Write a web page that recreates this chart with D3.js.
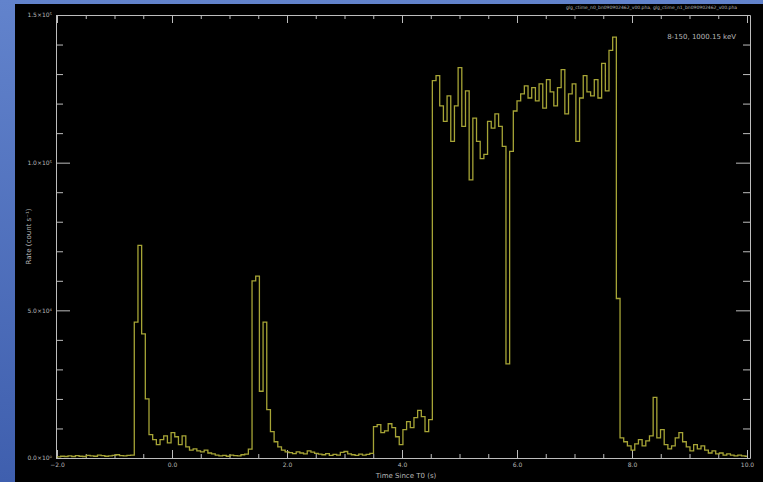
<!DOCTYPE html>
<html>
<head>
<meta charset="utf-8">
<script src="https://cdn.jsdelivr.net/npm/d3@7"></script>
<style>
  html, body { margin: 0; padding: 0; background: #4a6bbd; }
  svg { display: block; }
  text { font-family: "DejaVu Sans", sans-serif; fill: #b8b8b8; }
</style>
</head>
<body>
<svg id="chart" width="763" height="482"></svg>
<script>
// Light curve: count rate in 0.064 s bins, starting at t = -2 s
const binStart = -2.0;
const binWidth = 0.064;
const rates = [
  // pre-burst background
  400, 600, 500, 700, 500, 800, 600, 500, 900, 700, 600, 1000, 800, 600, 700, 900, 1100, 800, 700, 900, 1000,
  // first pulse
  46000, 72000, 42000, 20000, 7900, 6200, 4500, 6200, 7500, 5100, 8600, 7200, 4500, 7500, 3800, 2700,
  3100, 2400, 2100, 2700, 1700, 1400, 1000, 700, 900, 600, 1000, 800, 700, 1100, 1300, 3000,
  // second pulse
  60000, 61600, 22600, 46000, 16400, 8900, 5500, 3800, 2700, 2100,
  1800, 1500, 2100, 1700, 1400, 2400, 2000, 1600, 1300, 1100, 1500, 900, 1200, 1000, 1900, 2200,
  1400, 1100, 900, 1300, 1000, 1200, 1600,
  // precursor shelf
  10600, 11300, 8600, 9200, 11600, 10300, 7200, 4500, 9600, 12300, 10300, 13700, 16100, 14000, 8900, 13000,
  // main emission episode
  127800, 129500, 119200, 114000, 122600, 107200, 119200, 132200, 112300, 124300, 94200, 115100,
  107200, 101400, 102800, 114000, 111700, 116500, 112300, 105500, 31900, 103800, 117500, 120900,
  123300, 126000, 121900, 125400, 120900, 126700, 118500, 128100, 124000, 119200, 125400, 131500,
  116500, 123300, 126700, 107200, 121900, 129500, 124000, 122600, 128100, 121900, 133600, 124300,
  138000, 142500, 54000,
  // decay tail
  6800, 5500, 4100, 2700, 4800, 6200, 4100, 5800, 7500, 20500, 6800, 9600, 4500, 3100, 4100, 6800,
  8600, 5500, 3800, 2400, 4500, 3100, 4100, 2700, 1700, 2400, 1400, 1700, 1000, 1400, 1000, 700,
  1000, 700, 600
];
const xTickValues = [-2, 0, 2, 4, 6, 8, 10];
const xMinorStep = 0.5;
const yTickValues = [0, 50000, 100000, 150000];
const yTickLabels = ["0.0×10⁰", "5.0×10⁴", "1.0×10⁵", "1.5×10⁵"];
const yMinorStep = 10000;
const xTitle = "Time Since T0 (s)";
const yTitle = "Rate (count s⁻¹)";
const energyNote = "8-150, 1000.15 keV";
const fileNote = "glg_ctime_n0_bn090902462_v00.pha, glg_ctime_n1_bn090902462_v00.pha";

const svg = d3.select("#chart");
const W = 763, H = 482;

// blue backdrop with a black plotting panel
const defs = svg.append("defs");
const grad = defs.append("linearGradient").attr("id", "bg").attr("x1", 0).attr("y1", 0).attr("x2", 0).attr("y2", 1);
grad.append("stop").attr("offset", "0%").attr("stop-color", "#6283cc");
grad.append("stop").attr("offset", "100%").attr("stop-color", "#3f5fae");
svg.append("rect").attr("width", W).attr("height", H).attr("fill", "url(#bg)");
svg.append("rect").attr("x", 15).attr("y", 4).attr("width", W - 15).attr("height", H - 4).attr("fill", "#000");

const plotL = 56, plotR = 750, plotT = 15, plotB = 458;
const x = d3.scaleLinear().domain([-2, 10]).range([plotL + 1, plotR - 3]);
const y = d3.scaleLinear().domain([0, 150000]).range([plotB, plotT]);

const axisColor = "#bdbdbd";
const stepRange = (a, b, s) => d3.range(a, b + s / 2, s);
const xMinor = stepRange(-2, 10, xMinorStep).filter(v => !xTickValues.includes(v));
const yMinor = stepRange(0, 150000, yMinorStep).filter(v => !yTickValues.includes(v));

function styleAxis(g) {
  g.select(".domain").attr("stroke", axisColor);
  g.selectAll(".tick line").attr("stroke", axisColor);
  g.selectAll("text").attr("font-size", 6).attr("fill", "#b8b8b8");
}

// bottom axis
svg.append("g").attr("transform", `translate(0,${plotB})`)
  .call(d3.axisBottom(x).tickValues(xTickValues).tickSizeInner(-8).tickSizeOuter(0).tickPadding(5)
    .tickFormat(d => d3.format(".1f")(d)))
  .call(styleAxis);
svg.append("g").attr("transform", `translate(0,${plotB})`)
  .call(d3.axisBottom(x).tickValues(xMinor).tickSizeInner(-4).tickSizeOuter(0).tickFormat(""))
  .call(styleAxis);
// top axis
svg.append("g").attr("transform", `translate(0,${plotT})`)
  .call(d3.axisTop(x).tickValues(xTickValues).tickSizeInner(-8).tickSizeOuter(0).tickFormat(""))
  .call(styleAxis);
svg.append("g").attr("transform", `translate(0,${plotT})`)
  .call(d3.axisTop(x).tickValues(xMinor).tickSizeInner(-4).tickSizeOuter(0).tickFormat(""))
  .call(styleAxis);
// left axis
svg.append("g").attr("transform", `translate(${plotL},0)`)
  .call(d3.axisLeft(y).tickValues(yTickValues).tickSizeInner(-14).tickSizeOuter(0).tickPadding(4)
    .tickFormat((d, i) => yTickLabels[i]))
  .call(styleAxis);
svg.append("g").attr("transform", `translate(${plotL},0)`)
  .call(d3.axisLeft(y).tickValues(yMinor).tickSizeInner(-7).tickSizeOuter(0).tickFormat(""))
  .call(styleAxis);
// right axis
svg.append("g").attr("transform", `translate(${plotR},0)`)
  .call(d3.axisRight(y).tickValues(yTickValues).tickSizeInner(-14).tickSizeOuter(0).tickFormat(""))
  .call(styleAxis);
svg.append("g").attr("transform", `translate(${plotR},0)`)
  .call(d3.axisRight(y).tickValues(yMinor).tickSizeInner(-7).tickSizeOuter(0).tickFormat(""))
  .call(styleAxis);

// histogram-style light curve
const bins = rates.map((r, i) => ({ t: binStart + i * binWidth, r }));
bins.push({ t: binStart + rates.length * binWidth, r: rates[rates.length - 1] });
const line = d3.line().x(d => x(Math.min(d.t, 10))).y(d => y(d.r)).curve(d3.curveStepAfter);
svg.append("path").datum(bins)
  .attr("d", line)
  .attr("fill", "none")
  .attr("stroke", "#a6a436")
  .attr("stroke-width", 1.3);

// titles and annotations
svg.append("text").attr("x", (plotL + plotR) / 2 + 3).attr("y", 478).attr("text-anchor", "middle")
  .attr("font-size", 7).text(xTitle);
svg.append("text").attr("transform", `translate(31,${(plotT + plotB) / 2}) rotate(-90)`)
  .attr("text-anchor", "middle").attr("font-size", 7).text(yTitle);
svg.append("text").attr("x", 736).attr("y", 39).attr("text-anchor", "end")
  .attr("font-size", 7).attr("fill", "#d0d0d0").text(energyNote);
svg.append("text").attr("x", 737).attr("y", 9).attr("text-anchor", "end")
  .attr("font-size", 4.5).attr("fill", "#c0c0c0").text(fileNote);
</script>
</body>
</html>
